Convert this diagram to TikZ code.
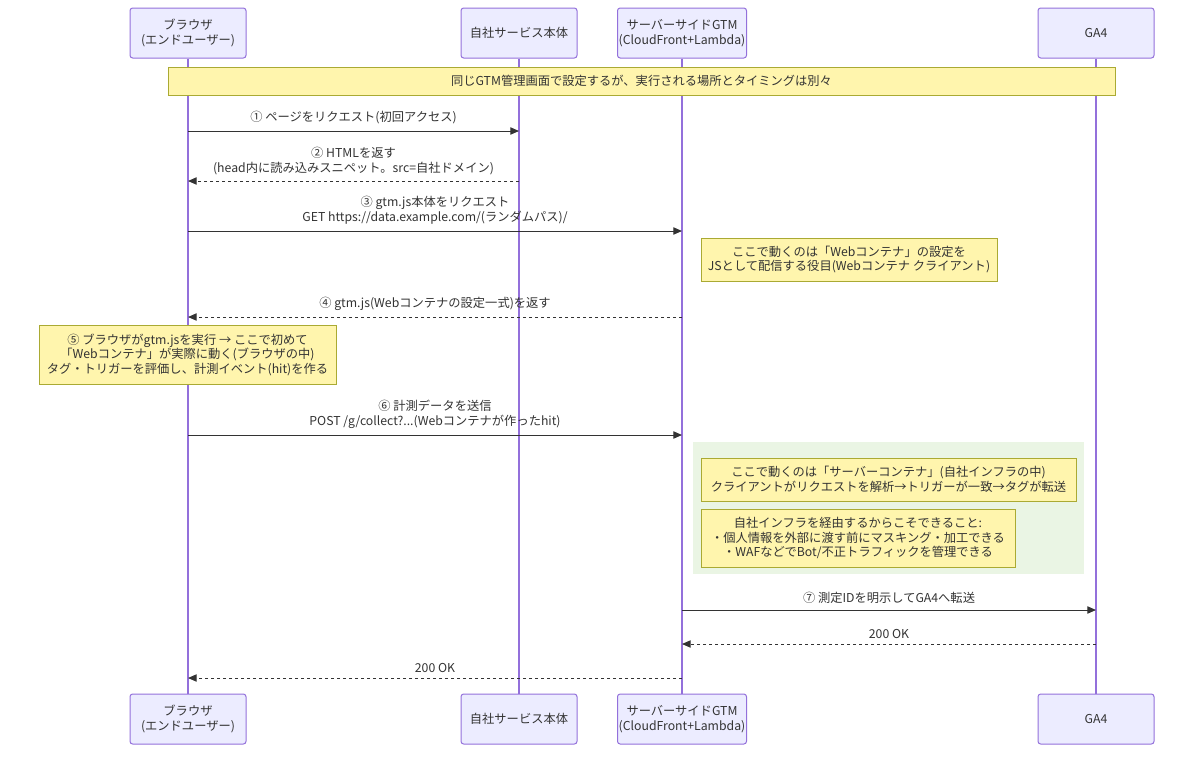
\documentclass[tikz,border=0pt]{standalone}
\usepackage{fontspec}
\setmainfont{Noto Sans CJK JP}
\usetikzlibrary{arrows.meta,positioning}
\definecolor{seqInk}{HTML}{333333}
\definecolor{seqActorFill}{HTML}{ECECFF}
\definecolor{seqActorLine}{HTML}{9370DB}
\definecolor{seqNoteFill}{HTML}{FFF5AD}
\definecolor{seqNoteLine}{HTML}{AAAA33}
\definecolor{seqZone}{HTML}{EAF5E4}
\tikzset{
  every picture/.style={font=\fontsize{9.2}{10.9}\selectfont, text=seqInk},
  seq actor/.style={draw=seqActorLine, fill=seqActorFill, line width=0.75pt,
    rounded corners=2pt, align=center, minimum width=87pt, minimum height=37.5pt, inner sep=0pt},
  seq life/.style={draw=seqActorLine, line width=0.9pt},
  seq note/.style={draw=seqNoteLine, fill=seqNoteFill, line width=0.75pt,
    align=center, inner sep=0pt},
  seq msg/.style={-{Triangle[length=6.5pt,width=5.5pt]}, draw=seqInk, line width=0.75pt},
  seq reply/.style={seq msg, dash pattern=on 2.25pt off 2.25pt},
  seq label/.style={align=center, inner sep=0pt}
}

\begin{document}
\begin{tikzpicture}[x=0.75pt,y=-0.75pt]
  \useasboundingbox (0,0) rectangle (1200,758);
  % participants, top and bottom
  \node[seq actor] (brw) at (188,33) {ブラウザ\\(エンドユーザー)};
  \node[seq actor] (svc) at (519,33) {自社サービス本体};
  \node[seq actor, minimum width=96.75pt] (sgtm) at (682,33) {サーバーサイドGTM\\(CloudFront+Lambda)};
  \node[seq actor] (ga) at (1096,33) {GA4};
  \node[seq actor] (brwB) at (188,719) {ブラウザ\\(エンドユーザー)};
  \node[seq actor] (svcB) at (519,719) {自社サービス本体};
  \node[seq actor, minimum width=96.75pt] (sgtmB) at (682,719) {サーバーサイドGTM\\(CloudFront+Lambda)};
  \node[seq actor] (gaB) at (1096,719) {GA4};
  \draw[seq life] (brw) -- (brwB);
  \draw[seq life] (svc) -- (svcB);
  \draw[seq life] (sgtm) -- (sgtmB);
  \draw[seq life] (ga) -- (gaB);

  \node[seq note, minimum width=710.25pt, minimum height=21pt] (banner) at (641.5,81)
    {同じGTM管理画面で設定するが、実行される場所とタイミングは別々};

  % message rows
  \coordinate (y1) at (0,131);
  \coordinate (y2) at (0,181);
  \coordinate (y3) at (0,231);
  \coordinate (y4) at (0,317);
  \coordinate (y6) at (0,435);
  \coordinate (y7) at (0,610);
  \coordinate (y8) at (0,644);
  \coordinate (y9) at (0,678);

  \node[seq label] (m1) at (353.5,118) {① ページをリクエスト(初回アクセス)};
  \draw[seq msg] (brw |- y1) -- (svc |- y1);
  \node[seq label] (m2) at (353.5,161) {② HTMLを返す\\(head内に読み込みスニペット。src=自社ドメイン)};
  \draw[seq reply] (svc |- y2) -- (brw |- y2);
  \node[seq label] (m3) at (435,210) {③ gtm.js本体をリクエスト\\GET https://data.example.com/(ランダムパス)/};
  \draw[seq msg] (brw |- y3) -- (sgtm |- y3);
  \node[seq note, minimum width=222pt, minimum height=32.25pt] (n1) at (849,259.5)
    {ここで動くのは「Webコンテナ」の設定を\\JSとして配信する役目(Webコンテナ クライアント)};
  \node[seq label] (m4) at (435,304) {④ gtm.js(Webコンテナの設定一式)を返す};
  \draw[seq reply] (sgtm |- y4) -- (brw |- y4);
  \node[seq note, minimum width=222.75pt, minimum height=44.25pt] (n5) at (187.5,354.5)
    {⑤ ブラウザがgtm.jsを実行 → ここで初めて\\「Webコンテナ」が実際に動く(ブラウザの中)\\タグ・トリガーを評価し、計測イベント(hit)を作る};
  \node[seq label] (m6) at (435,414.5) {⑥ 計測データを送信\\POST /g/collect?...(Webコンテナが作ったhit)};
  \draw[seq msg] (brw |- y6) -- (sgtm |- y6);

  % server side zone
  \fill[seqZone] (693,442) rectangle (1084,574);
  \node[seq note, minimum width=281.25pt, minimum height=32.25pt] (n2) at (888.5,479.5)
    {ここで動くのは「サーバーコンテナ」(自社インフラの中)\\クライアントがリクエストを解析→トリガーが一致→タグが転送};
  \node[seq note, minimum width=235.5pt, minimum height=43.5pt] (n3) at (858,538)
    {自社インフラを経由するからこそできること:\\・個人情報を外部に渡す前にマスキング・加工できる\\・WAFなどでBot/不正トラフィックを管理できる};

  \node[seq label] (m7) at (889,598) {⑦ 測定IDを明示してGA4へ転送};
  \draw[seq msg] (sgtm |- y7) -- (ga |- y7);
  \node[seq label] (m8) at (889,634) {200 OK};
  \draw[seq reply] (ga |- y8) -- (sgtm |- y8);
  \node[seq label] (m9) at (435,668) {200 OK};
  \draw[seq reply] (sgtm |- y9) -- (brw |- y9);
\end{tikzpicture}
\end{document}
